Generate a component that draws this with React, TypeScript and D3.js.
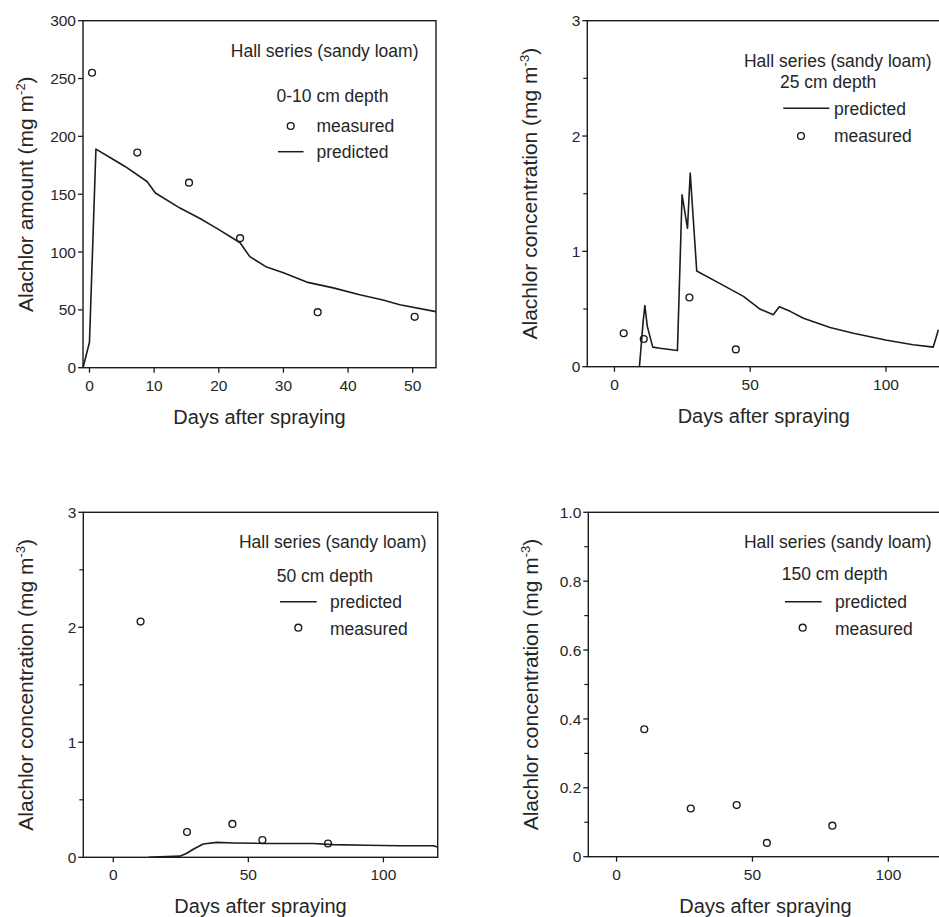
import React from "react";
import * as d3 from "d3";

// ---------- DATA ----------
const xTicks1 = [0, 10, 20, 30, 40, 50];
const yTicks1 = [0, 50, 100, 150, 200, 250, 300];
const xTicksLong = [0, 50, 100];
const yTicks3 = [0, 1, 2, 3];
const yMinor3 = [0.5, 1.5, 2.5];
const yTicksP4 = [0, 0.2, 0.4, 0.6, 0.8, 1.0];
const yTickLabelsP4 = ["0", "0.2", "0.4", "0.6", "0.8", "1.0"];
const yMinorP4 = [0.1, 0.3, 0.5, 0.7, 0.9];

// Panel 1: 0-10 cm depth, amount (mg m-2)
const p1MeasDays = [0.4, 7.4, 15.4, 23.3, 35.3, 50.3];
const p1MeasVals = [255, 186, 160, 112, 48, 44];
const p1PredDays = [-1, 0, 1, 3.7, 5.5, 8.9, 10.2, 14, 17.1, 19.7, 23.3, 24.8, 27.4, 30, 33.6, 37.7, 41.8, 45.4, 48, 53.6];
const p1PredVals = [0, 22, 189, 180, 174, 161, 151, 138, 129, 120.5, 108, 96, 87, 82, 74, 69, 63, 58.5, 54.5, 48.5];

// Panel 2: 25 cm depth
const p2MeasDays = [3.4, 10.8, 27.6, 44.7];
const p2MeasVals = [0.29, 0.24, 0.6, 0.15];
const p2PredDays = [9.2, 10.6, 11.2, 12.1, 14.1, 16.8, 23.2, 24.9, 26.9, 27.9, 30.3, 38.9, 47.5, 53.6, 58.5, 60.7, 64.7, 69.6, 79.4, 88, 100.3, 110, 117.4, 119.3];
const p2PredVals = [0, 0.4, 0.53, 0.35, 0.17, 0.16, 0.14, 1.49, 1.2, 1.68, 0.83, 0.72, 0.61, 0.5, 0.45, 0.52, 0.48, 0.42, 0.34, 0.29, 0.23, 0.19, 0.17, 0.32];

// Panel 3: 50 cm depth
const p3MeasDays = [10.1, 27.3, 44.1, 55.2, 79.5];
const p3MeasVals = [2.05, 0.22, 0.29, 0.15, 0.12];
const p3PredDays = [13, 17.3, 24.7, 27.2, 29.6, 33.3, 38.3, 44.4, 56.8, 74, 81.5, 93.8, 106.2, 118.5, 120];
const p3PredVals = [0, 0.005, 0.01, 0.035, 0.07, 0.115, 0.13, 0.125, 0.12, 0.12, 0.11, 0.105, 0.1, 0.1, 0.09];

// Panel 4: 150 cm depth
const p4MeasDays = [10.2, 27.3, 44.2, 55.3, 79.4];
const p4MeasVals = [0.37, 0.14, 0.15, 0.04, 0.09];

const seriesTitle = "Hall series (sandy loam)";
const xTitle = "Days after spraying";

// ---------- LAYOUT ----------
type Panel = {
  left: number; right: number; top: number; bottom: number;
  xDomain: [number, number]; yDomain: [number, number];
  xTicks: number[]; yTicks: number[]; yLabels: string[]; yMinor: number[];
  yTitle: string; ySup: string;
  measDays: number[]; measVals: number[]; predDays: number[]; predVals: number[];
  depth: string;
  legend: {
    hallEnd: number; hallY: number; depthX: number; depthY: number;
    predLine: [number, number]; predLineY: number; predTextX: number; predY: number;
    measCx: number; measCy: number; measTextX: number; measY: number;
  };
};

const panels: Panel[] = [
  {
    left: 83, right: 436, top: 20.7, bottom: 367.7,
    xDomain: [-1, 53.6], yDomain: [0, 300],
    xTicks: xTicks1, yTicks: yTicks1, yLabels: yTicks1.map(String), yMinor: [],
    yTitle: "Alachlor amount (mg m", ySup: "-2",
    measDays: p1MeasDays, measVals: p1MeasVals, predDays: p1PredDays, predVals: p1PredVals,
    depth: "0-10 cm depth",
    legend: {
      hallEnd: 418.5, hallY: 56.5, depthX: 276.5, depthY: 101.5,
      predLine: [278, 303.5], predLineY: 151.7, predTextX: 316.5, predY: 157.5,
      measCx: 290.7, measCy: 126, measTextX: 316.5, measY: 131.5,
    },
  },
  {
    left: 587.3, right: 940.3, top: 20.7, bottom: 366.7,
    xDomain: [-10, 120], yDomain: [0, 3],
    xTicks: xTicksLong, yTicks: yTicks3, yLabels: yTicks3.map(String), yMinor: yMinor3,
    yTitle: "Alachlor concentration (mg m", ySup: "-3",
    measDays: p2MeasDays, measVals: p2MeasVals, predDays: p2PredDays, predVals: p2PredVals,
    depth: "25 cm depth",
    legend: {
      hallEnd: 931.7, hallY: 66.5, depthX: 780, depthY: 88.3,
      predLine: [783.3, 829.3], predLineY: 108.3, predTextX: 834, predY: 115,
      measCx: 801, measCy: 136, measTextX: 834, measY: 141.7,
    },
  },
  {
    left: 83.3, right: 437.7, top: 512.3, bottom: 857.3,
    xDomain: [-11.1, 120.1], yDomain: [0, 3],
    xTicks: xTicksLong, yTicks: yTicks3, yLabels: yTicks3.map(String), yMinor: yMinor3,
    yTitle: "Alachlor concentration (mg m", ySup: "-3",
    measDays: p3MeasDays, measVals: p3MeasVals, predDays: p3PredDays, predVals: p3PredVals,
    depth: "50 cm depth",
    legend: {
      hallEnd: 426.7, hallY: 548.3, depthX: 276.7, depthY: 581.7,
      predLine: [280, 316.7], predLineY: 601.7, predTextX: 330, predY: 608.3,
      measCx: 298.3, measCy: 627.7, measTextX: 330, measY: 635,
    },
  },
  {
    left: 588.3, right: 942.7, top: 512.3, bottom: 856.7,
    xDomain: [-10.4, 120], yDomain: [0, 1],
    xTicks: xTicksLong, yTicks: yTicksP4, yLabels: yTickLabelsP4, yMinor: yMinorP4,
    yTitle: "Alachlor concentration (mg m", ySup: "-3",
    measDays: p4MeasDays, measVals: p4MeasVals, predDays: [], predVals: [],
    depth: "150 cm depth",
    legend: {
      hallEnd: 931.7, hallY: 548.3, depthX: 781.7, depthY: 580,
      predLine: [785, 821.7], predLineY: 601.7, predTextX: 835, predY: 608.3,
      measCx: 802.7, measCy: 627.7, measTextX: 835, measY: 635,
    },
  },
];

const INK = "#1c1c1c";
const TEXT = "#262626";
const FONT = "'Liberation Sans', Arial, Helvetica, sans-serif";

function PanelView({ p }: { p: Panel }) {
  const x = d3.scaleLinear().domain(p.xDomain).range([p.left, p.right]);
  const y = d3.scaleLinear().domain(p.yDomain).range([p.bottom, p.top]);
  const pts = p.predDays.map((d, i) => [d, p.predVals[i]] as [number, number]);
  const line = d3.line<[number, number]>().x((d) => x(d[0])).y((d) => y(d[1]));
  const L = p.legend;
  const cy = (p.top + p.bottom) / 2;
  const cx = (p.left + p.right) / 2;
  const tx = p.left - 50;
  return (
    <g fontFamily={FONT}>
      {/* frame */}
      <rect x={p.left} y={p.top} width={p.right - p.left} height={p.bottom - p.top}
        fill="none" stroke={INK} strokeWidth={1.4} />
      {/* y ticks */}
      {p.yTicks.map((t, i) => (
        <g key={"yt" + i}>
          <line x1={p.left - 5} x2={p.left} y1={y(t)} y2={y(t)} stroke={INK} strokeWidth={1.3} />
          <text x={p.left - 7} y={y(t)} dy="0.36em" textAnchor="end" fontSize={15.5} fill={TEXT}>
            {p.yLabels[i]}
          </text>
        </g>
      ))}
      {p.yMinor.map((t, i) => (
        <line key={"ym" + i} x1={p.left - 4} x2={p.left} y1={y(t)} y2={y(t)} stroke={INK} strokeWidth={1.2} />
      ))}
      {/* x ticks */}
      {p.xTicks.map((t, i) => (
        <g key={"xt" + i}>
          <line x1={x(t)} x2={x(t)} y1={p.bottom} y2={p.bottom + 5} stroke={INK} strokeWidth={1.3} />
          <text x={x(t)} y={p.bottom + 23} textAnchor="middle" fontSize={15.5} fill={TEXT}>
            {String(t)}
          </text>
        </g>
      ))}
      {/* axis titles */}
      <text x={cx} y={p.bottom + 56} textAnchor="middle" fontSize={20} fill={TEXT}>{xTitle}</text>
      <text transform={`translate(${tx},${cy}) rotate(-90)`} textAnchor="middle" fontSize={21} fill={TEXT}>
        {p.yTitle}
        <tspan dy={-8} fontSize={13}>{p.ySup}</tspan>
        <tspan dy={8}>)</tspan>
      </text>
      {/* predicted line */}
      {pts.length > 0 && (
        <path d={line(pts) || ""} fill="none" stroke={INK} strokeWidth={1.6} strokeLinejoin="round" />
      )}
      {/* measured points */}
      {p.measDays.map((d, i) => (
        <circle key={"m" + i} cx={x(d)} cy={y(p.measVals[i])} r={3.4} fill="none" stroke={INK} strokeWidth={1.4} />
      ))}
      {/* legend */}
      <text x={L.hallEnd} y={L.hallY} textAnchor="end" fontSize={17.5} fill={TEXT}>{seriesTitle}</text>
      <text x={L.depthX} y={L.depthY} fontSize={17.5} fill={TEXT}>{p.depth}</text>
      <line x1={L.predLine[0]} x2={L.predLine[1]} y1={L.predLineY} y2={L.predLineY} stroke={INK} strokeWidth={1.5} />
      <text x={L.predTextX} y={L.predY} fontSize={17.5} fill={TEXT}>predicted</text>
      <circle cx={L.measCx} cy={L.measCy} r={3.4} fill="none" stroke={INK} strokeWidth={1.4} />
      <text x={L.measTextX} y={L.measY} fontSize={17.5} fill={TEXT}>measured</text>
    </g>
  );
}

export default function App() {
  return (
    <svg width={939} height={917} style={{ position: "absolute", left: 0, top: 0, background: "#fff" }}>
      <rect x={0} y={0} width={939} height={917} fill="#fff" />
      {panels.map((p, i) => (
        <PanelView key={i} p={p} />
      ))}
    </svg>
  );
}
